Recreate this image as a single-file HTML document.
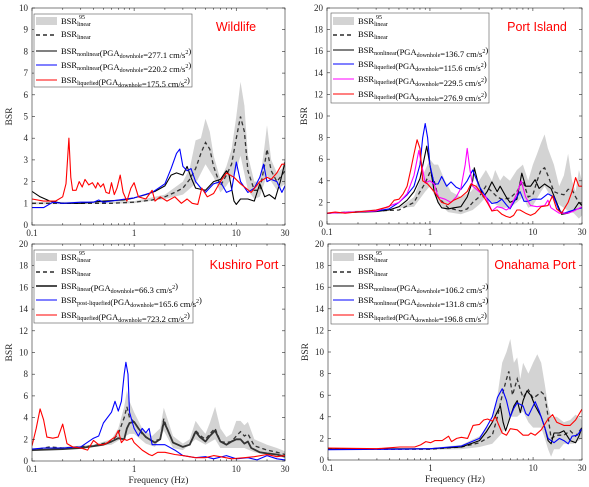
<!DOCTYPE html>
<html><head><meta charset="utf-8"><style>
html,body{margin:0;padding:0;background:#fff}
svg{display:block}
text{font-family:"Liberation Serif",serif}
text.sans{font-family:"Liberation Sans",sans-serif}
</style></head><body>
<svg id="chart" width="589" height="487" viewBox="0 0 589 487" xmlns="http://www.w3.org/2000/svg"></svg>
<script>
// ---------- Data (frequency Hz, BSR) ----------
const wlBandUpper=[[0.1,1.05],[1,1.1],[2,1.4],[3,2.0],[3.5,2.6],[4,3.9],[4.5,4.0],[5,4.9],[5.5,4.3],[6,3.2],[7,2.1],[8,2.7],[9,3.5],[10,5.0],[11,6.6],[12,5.5],[13,3.2],[15,2.0],[17,2.0],[19,3.7],[20,4.6],[22,3.0],[25,2.4],[28,2.6],[30,3.1]];
const wlBandLower=[[0.1,0.95],[1,1.0],[2,1.2],[3,1.4],[4,1.9],[5,2.8],[6,2.2],[7,1.5],[8,1.8],[10,2.5],[11,3.2],[13,1.6],[15,1.2],[17,1.3],[20,2.3],[25,1.6],[30,1.9]];
const wlLinear=[[0.1,1.0],[0.3,1.0],[0.6,1.0],[1,1.05],[1.5,1.15],[2,1.3],[2.5,1.5],[3,1.7],[3.5,2.1],[4,2.6],[4.5,3.3],[5,3.8],[5.5,3.5],[6,2.7],[7,1.8],[8,2.3],[9,2.8],[10,4.0],[11,5.0],[12,4.3],[13,2.5],[15,1.6],[17,1.6],[19,2.8],[20,3.5],[22,2.5],[25,2.0],[28,2.3],[30,2.5]];
const wlBlack=[[0.1,1.55],[0.12,1.3],[0.15,1.1],[0.2,1.0],[0.3,1.0],[0.5,1.1],[0.8,1.15],[1,1.25],[1.3,1.4],[1.6,1.55],[2,1.8],[2.3,2.3],[2.6,2.4],[3.0,2.3],[3.3,2.7],[3.6,2.2],[4,1.7],[5,1.6],[6,2.0],[7,2.1],[8,2.5],[8.5,2.3],[9.5,1.1],[10,0.95],[11,1.2],[13,1.2],[15,1.1],[17,1.9],[19,1.3],[21,1.4],[24,1.2],[27,2.0],[30,2.9]];
const wlBlue=[[0.1,0.8],[0.13,0.8],[0.16,1.05],[0.2,1.0],[0.3,1.05],[0.4,1.05],[0.45,1.15],[0.5,1.05],[0.7,1.15],[1,1.25],[1.5,1.5],[2,1.9],[2.3,2.6],[2.6,3.3],[2.8,3.5],[3.0,2.7],[3.3,2.5],[3.6,2.6],[4,2.0],[4.5,1.7],[5,1.5],[6,1.9],[7,2.0],[8,1.5],[9,1.6],[10,2.9],[11,2.0],[13,1.5],[15,1.7],[17,2.2],[18.5,2.8],[20,2.0],[22,2.1],[25,2.0],[28,1.5],[30,1.8]];
const wlRed=[[0.1,1.2],[0.13,1.1],[0.17,1.1],[0.2,1.3],[0.215,1.9],[0.23,4.0],[0.24,2.2],[0.25,1.6],[0.27,1.6],[0.29,2.0],[0.31,1.75],[0.33,2.1],[0.36,1.85],[0.39,1.95],[0.42,1.7],[0.44,1.95],[0.47,1.75],[0.5,1.9],[0.53,1.5],[0.57,1.45],[0.6,1.95],[0.64,1.4],[0.68,1.7],[0.73,2.3],[0.78,1.5],[0.85,1.1],[0.93,1.7],[1.0,1.95],[1.1,1.3],[1.3,1.2],[1.5,1.6],[1.6,1.1],[1.8,1.3],[2.1,1.1],[2.5,1.3],[2.9,1.0],[3.3,1.2],[3.7,1.0],[4.2,0.95],[4.6,1.7],[5.2,1.3],[6.0,1.45],[7.0,2.0],[8.0,2.4],[9.5,2.2],[11,1.9],[14,1.5],[17,2.0],[20,2.2],[22,2.1],[25,2.4],[28,2.8],[30,2.8]];

const piBandUpper=[[0.1,1.05],[0.5,1.5],[0.7,2.5],[0.8,4.0],[0.9,5.0],[1.0,6.0],[1.1,5.5],[1.2,5.5],[1.4,4.0],[1.6,3.0],[2,2.5],[2.5,3.0],[3,4.0],[3.5,5.0],[4,4.0],[4.3,5.0],[4.8,4.0],[5.2,4.5],[6,4.0],[7,5.0],[8,5.5],[9,4.0],[10,5.5],[11,6.5],[12,7.5],[13,8.3],[14,7.0],[16,5.5],[18,3.5],[20,4.5],[22,6.5],[24,4.0],[26,3.0],[28,5.0],[30,4.0]];
const piBandLower=[[0.1,0.95],[0.7,1.6],[0.9,3.0],[1.0,3.5],[1.2,2.0],[1.5,1.1],[2,0.9],[2.6,1.3],[3,1.8],[3.5,2.5],[4,2.0],[5,1.5],[6,1.5],[7,2.0],[8,2.5],[9,1.5],[10,1.7],[12,3.0],[13,3.5],[15,2.5],[18,1.8],[22,1.2],[25,1.0],[28,0.5],[30,0.8]];
const piLinear=[[0.1,1.0],[0.5,1.3],[0.7,2.0],[0.8,3.0],[0.9,3.8],[1.0,4.8],[1.1,4.0],[1.2,2.5],[1.5,1.5],[2,1.2],[2.3,1.4],[2.6,2.0],[3,2.5],[3.5,3.5],[4,3.0],[4.5,2.5],[5,2.3],[6,2.4],[7,3.0],[8,4.0],[9,2.5],[10,2.7],[11,4.0],[12,5.0],[13,5.2],[14,4.5],[16,3.0],[18,2.8],[20,2.7],[22,3.2],[24,3.2],[26,2.5],[28,2.0],[30,1.8]];
const piBlack=[[0.1,1.0],[0.3,1.15],[0.4,1.3],[0.5,1.6],[0.6,2.2],[0.7,3.0],[0.8,4.2],[0.9,6.5],[0.93,7.2],[1.0,5.5],[1.1,3.0],[1.2,2.0],[1.3,1.5],[1.5,1.4],[1.7,1.5],[2.0,1.6],[2.3,2.5],[2.6,4.0],[2.7,5.2],[2.9,4.0],[3.3,2.5],[3.6,3.0],[4.0,3.9],[4.5,3.0],[4.8,3.5],[5.5,2.5],[6,2.0],[7,2.3],[7.8,4.7],[8.5,3.5],[9.5,3.5],[10.5,4.1],[11.5,3.3],[13,3.7],[15,3.3],[17,2.0],[19,0.9],[22,1.0],[25,1.3],[28,2.0],[30,1.7]];
const piBlue=[[0.1,1.0],[0.3,1.2],[0.4,1.4],[0.5,2.0],[0.6,2.7],[0.7,3.5],[0.8,5.5],[0.85,8.0],[0.9,9.3],[0.95,8.0],[1.0,5.5],[1.1,3.7],[1.2,3.7],[1.3,4.4],[1.45,3.5],[1.6,3.9],[1.8,3.4],[2.0,3.2],[2.3,4.0],[2.6,5.0],[3,3.5],[3.5,2.5],[4,1.9],[4.5,2.0],[5,2.3],[5.5,1.8],[6,1.4],[7,2.5],[7.5,3.0],[8.2,2.1],[9,2.1],[10,2.3],[12,2.3],[14,2.8],[16,2.5],[18,1.2],[20,1.0],[25,1.3],[30,1.5]];
const piMagenta=[[0.1,1.0],[0.3,1.2],[0.5,2.0],[0.6,2.8],[0.7,4.5],[0.78,6.8],[0.85,5.0],[0.9,3.8],[1.0,4.0],[1.1,3.7],[1.2,2.5],[1.4,2.3],[1.6,2.0],[1.8,2.5],[2.0,3.3],[2.2,5.5],[2.3,7.0],[2.45,5.0],[2.6,3.5],[3,3.0],[3.5,2.5],[4,1.2],[4.5,1.6],[5,1.5],[5.5,1.3],[6,1.5],[7,2.8],[7.7,4.0],[8.5,2.5],[9.5,1.7],[11,1.6],[13,1.7],[14,2.2],[15,1.5],[18,1.0],[22,1.0],[25,1.2],[30,1.6]];
const piRed=[[0.1,1.0],[0.12,1.1],[0.15,1.0],[0.3,1.3],[0.4,1.6],[0.45,2.2],[0.5,2.3],[0.55,2.8],[0.6,3.5],[0.65,5.0],[0.7,6.5],[0.75,7.8],[0.8,7.0],[0.85,4.0],[0.95,3.7],[1.1,3.0],[1.3,2.0],[1.5,1.8],[1.7,2.2],[2.0,2.5],[2.3,3.0],[2.5,3.7],[2.8,3.5],[3.2,2.8],[3.6,2.0],[4,1.2],[4.5,1.3],[5,0.9],[5.5,0.7],[6,0.6],[6.5,0.8],[7,1.3],[7.5,1.3],[8.5,1.0],[9.5,0.8],[10.5,1.0],[12,1.6],[14,1.7],[15.5,2.6],[17,1.4],[19,1.0],[22,2.0],[24,3.0],[26,4.3],[28,3.5],[30,3.5]];

const kuBandUpper=[[0.1,1.1],[0.4,1.5],[0.6,2.0],[0.7,3.0],[0.8,5.0],[0.85,6.5],[0.9,5.5],[1.0,4.5],[1.2,3.0],[1.5,2.3],[1.8,3.0],[1.95,4.9],[2.1,4.0],[2.4,2.3],[3,1.6],[3.5,2.0],[4,3.7],[4.5,3.0],[5,2.5],[5.5,3.5],[6.2,5.0],[7,3.0],[8,2.2],[9,2.5],[10,3.7],[11,3.7],[12,3.3],[13,3.6],[15,2.0],[20,1.5],[25,1.2],[30,0.9]];
const kuBandLower=[[0.1,0.9],[0.6,1.5],[0.8,2.2],[0.9,2.5],[1.0,2.5],[1.3,1.6],[1.6,1.3],[1.95,2.8],[2.4,1.2],[3,1.0],[4,2.0],[5,1.5],[6.2,2.0],[7,1.2],[8,1.2],[10,1.2],[12,1.2],[15,0.8],[20,0.6],[30,0.3]];
const kuLinear=[[0.1,1.0],[0.15,1.3],[0.2,1.2],[0.4,1.4],[0.6,1.8],[0.7,2.5],[0.8,4.0],[0.85,5.0],[0.9,4.0],[1.0,3.6],[1.2,2.5],[1.5,1.8],[1.8,2.0],[1.95,3.9],[2.1,3.0],[2.4,1.7],[3,1.3],[3.5,1.5],[4,2.8],[4.5,2.3],[5,2.0],[5.5,2.5],[6.2,3.0],[7,1.8],[8,1.7],[9,1.8],[10,2.3],[11,2.7],[12,2.3],[13,2.5],[15,1.4],[20,1.0],[25,0.8],[30,0.6]];
const kuBlack=[[0.1,1.0],[0.2,1.1],[0.3,1.2],[0.5,1.5],[0.6,1.8],[0.7,2.1],[0.8,2.0],[0.85,3.0],[0.9,3.5],[1.0,3.6],[1.1,3.0],[1.3,2.2],[1.6,1.7],[1.8,2.0],[1.95,3.6],[2.1,3.0],[2.4,1.7],[3,1.3],[3.5,1.5],[4,2.7],[4.4,2.2],[5,1.8],[5.5,2.3],[6.2,2.8],[7,1.8],[8,1.5],[9,1.8],[10,2.0],[11,2.0],[12,1.6],[13,1.8],[14,1.2],[17,0.8],[20,0.7],[25,0.6],[30,0.4]];
const kuBlue=[[0.1,1.1],[0.13,1.2],[0.2,1.2],[0.3,1.3],[0.4,2.1],[0.45,2.3],[0.5,3.5],[0.6,4.5],[0.65,5.5],[0.7,4.6],[0.75,5.5],[0.8,8.0],[0.83,9.1],[0.87,8.0],[0.9,4.5],[1.0,3.0],[1.1,2.3],[1.2,3.0],[1.3,2.6],[1.4,3.0],[1.5,1.5],[2,1.5],[2.5,1.0],[3,0.5],[4,0.3],[5,0.4],[6,0.2],[8,0.5],[10,0.2],[13,0.3],[16,0.1],[20,0.5],[25,0.2],[30,0.1]];
const kuRed=[[0.1,1.4],[0.11,3.0],[0.12,4.8],[0.13,3.8],[0.14,2.2],[0.16,2.1],[0.18,2.2],[0.2,3.4],[0.21,2.5],[0.22,1.6],[0.25,1.3],[0.3,1.2],[0.35,1.0],[0.4,1.9],[0.45,1.5],[0.5,1.5],[0.55,1.7],[0.6,2.0],[0.65,2.2],[0.7,2.8],[0.75,1.7],[0.8,2.0],[0.85,1.9],[0.9,2.0],[0.95,2.1],[1.0,1.7],[1.2,1.0],[1.4,0.6],[1.5,0.5],[1.7,0.8],[2,0.8],[2.5,0.6],[3,0.5],[4,0.3],[5,0.3],[6,0.5],[7,0.4],[9,0.2],[12,0.3],[15,0.4],[20,0.6],[25,0.4],[30,0.5]];

const onBandUpper=[[0.1,1.05],[1,1.1],[2,1.4],[3,2.2],[4,3.5],[4.5,6.0],[5,9.0],[5.5,10.0],[6,11.2],[6.5,9.0],[7,9.5],[7.5,7.5],[8,9.0],[9,8.0],[10,9.0],[11,9.8],[12,9.0],[13,7.0],[14,5.0],[15,4.0],[17,4.0],[20,3.5],[23,3.7],[26,4.2],[30,3.7]];
const onBandLower=[[0.1,0.95],[1,0.95],[2,1.0],[3,1.2],[4,1.5],[5,2.5],[6,4.0],[7,4.0],[8,4.5],[9,3.5],[10,3.0],[11,3.0],[12,3.0],[13,2.0],[14,1.0],[15,0.3],[16,1.0],[18,1.0],[20,1.5],[25,1.5],[30,2.0]];
const onLinear=[[0.1,1.0],[1,1.0],[2,1.2],[3,1.6],[4,2.3],[4.5,4.0],[5,6.0],[5.5,7.5],[5.8,8.2],[6.3,6.0],[7,7.5],[7.5,6.5],[8,5.8],[9,6.5],[10,5.7],[11,6.0],[12,6.3],[13,6.0],[14,4.0],[15,2.0],[17,2.3],[20,2.3],[23,2.7],[26,2.2],[30,3.0]];
const onBlack=[[0.1,1.0],[1,1.05],[2,1.2],[3,1.8],[3.5,2.6],[4,3.5],[4.5,4.5],[4.8,5.0],[5.1,3.5],[5.4,2.7],[6,4.0],[6.5,5.0],[7,5.5],[7.5,4.4],[8,5.5],[8.7,6.4],[9.5,6.0],[10.5,5.0],[12,4.0],[13,3.0],[14,1.8],[15,1.5],[16,2.5],[18,2.5],[20,2.7],[23,1.8],[26,1.6],[28,2.2],[30,3.0]];
const onBlue=[[0.1,0.95],[0.5,1.0],[1,1.05],[2,1.3],[3,2.0],[3.5,3.0],[4,4.0],[4.5,5.8],[5,6.6],[5.5,5.5],[6,4.0],[6.5,4.8],[7,5.3],[8,5.0],[8.5,4.3],[9,4.1],[10,5.0],[10.5,5.4],[11.5,4.5],[13,3.0],[14,2.0],[16,1.6],[18,2.0],[20,1.8],[22,1.5],[24,2.2],[27,2.3],[30,2.9]];
const onRed=[[0.1,1.1],[0.3,1.05],[0.5,1.2],[0.7,1.2],[0.8,1.4],[0.9,1.7],[1.0,1.6],[1.1,1.8],[1.3,1.8],[1.5,2.2],[1.6,1.7],[1.8,2.0],[2.0,2.1],[2.3,2.0],[2.6,3.2],[3,3.3],[3.3,3.7],[3.6,3.8],[4,3.6],[4.3,4.0],[4.6,3.3],[5,2.5],[5.5,2.3],[6,2.9],[7,2.8],[8,2.3],[9,2.3],[9.5,2.5],[10.5,2.3],[12,2.8],[14,3.8],[15.5,4.2],[17,3.5],[20,3.2],[23,3.2],[26,3.7],[30,4.7]];

const xTickLabels=["0.1","1","10","30"];
const xTickValues=[0.1,1,10,30];

// ---------- Drawing ----------
const NS="http://www.w3.org/2000/svg";
const svg=document.getElementById('chart');
function mk(tag,attrs,parent){const e=document.createElementNS(NS,tag);for(const k in attrs)e.setAttribute(k,attrs[k]);(parent||svg).appendChild(e);return e;}

const panels=[
 {name:'wildlife',x0:32,x1:285,y0:8,y1:225,ymax:10,ystep:1,title:'Wildlife',tx:236,ty:31,xlabel:false,
  band:[wlBandUpper,wlBandLower],linear:wlLinear,
  series:[{d:wlBlack,c:'#000',w:1.1},{d:wlBlue,c:'#0000ff',w:1.1},{d:wlRed,c:'#ff0000',w:1.1}],
  leg:{x:34,y:14,w:158,h:73,rows:[22,35,51,65,80]},
  entries:[['nonlinear','277.1'],['nonlinear','220.2'],['liquefied','175.5']],colors:['#000','#0000ff','#ff0000']},
 {name:'port-island',x0:327,x1:582,y0:8,y1:224,ymax:20,ystep:2,title:'Port Island',tx:537,ty:31,xlabel:false,
  band:[piBandUpper,piBandLower],linear:piLinear,
  series:[{d:piBlack,c:'#000',w:1.1},{d:piBlue,c:'#0000ff',w:1.1},{d:piMagenta,c:'#ff00ff',w:1.1},{d:piRed,c:'#ff0000',w:1.1}],
  leg:{x:331,y:13,w:158,h:90,rows:[22,35,50,64,79,94]},
  entries:[['nonlinear','136.7'],['liquefied','115.6'],['liquefied','229.5'],['liquefied','276.9']],colors:['#000','#0000ff','#ff00ff','#ff0000']},
 {name:'kushiro-port',x0:32,x1:285,y0:244,y1:461,ymax:20,ystep:2,title:'Kushiro Port',tx:244,ty:269,xlabel:true,
  band:[kuBandUpper,kuBandLower],linear:kuLinear,
  series:[{d:kuBlack,c:'#333',w:1.8},{d:kuBlue,c:'#0000ff',w:1.1},{d:kuRed,c:'#ff0000',w:1.1}],
  leg:{x:34,y:250,w:159,h:73,rows:[258,272,286,300,315]},
  entries:[['linear','66.3'],['post-liquefied','165.6'],['liquefied','723.2']],colors:['#333','#0000ff','#ff0000'],widths:[1.8,1.1,1.1]},
 {name:'onahama-port',x0:328,x1:582,y0:244,y1:460,ymax:20,ystep:2,title:'Onahama Port',tx:535,ty:269,xlabel:true,
  band:[onBandUpper,onBandLower],linear:onLinear,
  series:[{d:onBlack,c:'#000',w:1.1},{d:onBlue,c:'#0000ff',w:1.1},{d:onRed,c:'#ff0000',w:1.1}],
  leg:{x:331,y:250,w:157,h:74,rows:[258,272,286,300,315]},
  entries:[['nonlinear','106.2'],['nonlinear','131.8'],['liquefied','196.8']],colors:['#000','#0000ff','#ff0000']}
];

function subText(parent,x,y,parts,name){
  const t=mk('text',{x:x,y:y,'font-size':8.5,fill:'#000'},parent);
  
  
  parts.forEach(p=>{
    const s=mk('tspan',{},t);
    if(p[1]==='sub'){s.setAttribute('font-size','6');s.setAttribute('dy','2');}
    else if(p[1]==='sup'){s.setAttribute('font-size','6');s.setAttribute('dy','-4');}
    s.textContent=p[0];
    if(p[1]==='sub'||p[1]==='sup'){
      const back=mk('tspan',{dy:p[1]==='sub'?-2:4,'font-size':8.5},t);back.textContent='';
    }
  });
  return t;
}

panels.forEach(P=>{
  const g=mk('g',{});
  
  
  const lx0=Math.log10(0.1),lx1=Math.log10(30);
  const X=f=>P.x0+(Math.log10(f)-lx0)/(lx1-lx0)*(P.x1-P.x0);
  const Y=v=>P.y1-v/P.ymax*(P.y1-P.y0);
  const clipId='clip-'+P.name;
  const defs=mk('defs',{},g);
  const cp=mk('clipPath',{id:clipId},defs);
  mk('rect',{x:P.x0,y:P.y0,width:P.x1-P.x0,height:P.y1-P.y0},cp);
  const plot=mk('g',{'clip-path':'url(#'+clipId+')'},g);
  const up=P.band[0],lo=P.band[1];
  let d='M'+up.map(p=>X(p[0]).toFixed(1)+','+Y(p[1]).toFixed(1)).join('L');
  d+='L'+lo.slice().reverse().map(p=>X(p[0]).toFixed(1)+','+Y(p[1]).toFixed(1)).join('L')+'Z';
  const band=mk('path',{d:d,fill:'#d3d3d3',stroke:'none'},plot);
  
  
  const path=arr=>'M'+arr.map(p=>X(p[0]).toFixed(1)+','+Y(p[1]).toFixed(1)).join('L');
  const lin=mk('path',{d:path(P.linear),fill:'none',stroke:'#333','stroke-width':1.3,'stroke-dasharray':'4,3'},plot);
  
  
  P.series.forEach((s,i)=>{
    const l=mk('path',{d:path(s.d),fill:'none',stroke:s.c,'stroke-width':s.w,'stroke-linejoin':'round'},plot);
    
    
  });
  const box=mk('rect',{x:P.x0,y:P.y0,width:P.x1-P.x0,height:P.y1-P.y0,fill:'none',stroke:'#262626','stroke-width':0.6},g);
  
  
  for(let v=0;v<=P.ymax+1e-9;v+=P.ystep){
    const y=Y(v);
    mk('line',{x1:P.x0,x2:P.x0+3,y1:y,y2:y,stroke:'#262626','stroke-width':0.6},g);
    mk('line',{x1:P.x1,x2:P.x1-3,y1:y,y2:y,stroke:'#262626','stroke-width':0.6},g);
    const t=mk('text',{x:P.x0-4,y:y+3,'font-size':9,'text-anchor':'end',fill:'#262626'},g);
    
    
    t.textContent=String(v);
  }
  [0.1,1,10].forEach(dec=>{for(let k=1;k<10;k++){const f=dec*k;if(f>30.001)break;const x=X(f);const L=k===1?3:1.8;
    mk('line',{x1:x,x2:x,y1:P.y1,y2:P.y1-L,stroke:'#262626','stroke-width':0.6},g);
    mk('line',{x1:x,x2:x,y1:P.y0,y2:P.y0+L,stroke:'#262626','stroke-width':0.6},g);}});
  xTickValues.forEach((f,i)=>{
    const t=mk('text',{x:X(f),y:P.y1+11,'font-size':9,'text-anchor':'middle',fill:'#262626'},g);
    
    
    t.textContent=xTickLabels[i];
  });
  const yl=mk('text',{x:0,y:0,'font-size':9.5,'text-anchor':'middle',fill:'#262626',transform:'translate('+(P.x0-20)+','+((P.y0+P.y1)/2)+') rotate(-90)'},g);
  
  
  yl.textContent='BSR';
  if(P.xlabel){
    const xl=mk('text',{x:(P.x0+P.x1)/2,y:P.y1+22,'font-size':9.5,'text-anchor':'middle',fill:'#262626'},g);
    
    
    xl.textContent='Frequency (Hz)';
  }
  const tt=mk('text',{x:P.tx,y:P.ty,'font-size':12.5,'text-anchor':'middle',fill:'#ff0000',class:'sans',style:'font-family:"Liberation Sans",sans-serif'},g);
  
  
  tt.textContent=P.title;
  const lg=mk('g',{},g);
  
  
  mk('rect',{x:P.leg.x,y:P.leg.y,width:P.leg.w,height:P.leg.h,fill:'#fff',stroke:'#555','stroke-width':0.6},lg);
  const sx0=P.leg.x+2,sx1=P.leg.x+23,tx=P.leg.x+27;
  const r=P.leg.rows;
  mk('rect',{x:sx0,y:r[0]-5,width:sx1-sx0,height:8,fill:'#d3d3d3'},lg);
  subText(lg,tx,r[0]+2,[['BSR',''],['linear','sub']],'legend-entry-band');
  const s95=mk('text',{x:tx+18,y:r[0]-3,'font-size':6,fill:'#000'},lg);s95.textContent='95';
  mk('line',{x1:sx0,x2:sx1,y1:r[1],y2:r[1],stroke:'#000','stroke-width':1.3,'stroke-dasharray':'4,3'},lg);
  subText(lg,tx,r[1]+2,[['BSR',''],['linear','sub']],'legend-entry-linear');
  P.entries.forEach((e,i)=>{
    const y=r[i+2];
    mk('line',{x1:sx0,x2:sx1,y1:y,y2:y,stroke:P.colors[i],'stroke-width':(P.widths?P.widths[i]:1.1)},lg);
    subText(lg,tx,y+3,[['BSR',''],[e[0],'sub'],['(PGA',''],['downhole','sub'],['='+e[1]+' cm/s',''],['2','sup'],[')','']],'legend-entry-'+(i+1));
  });
});
</script>
</body></html>
